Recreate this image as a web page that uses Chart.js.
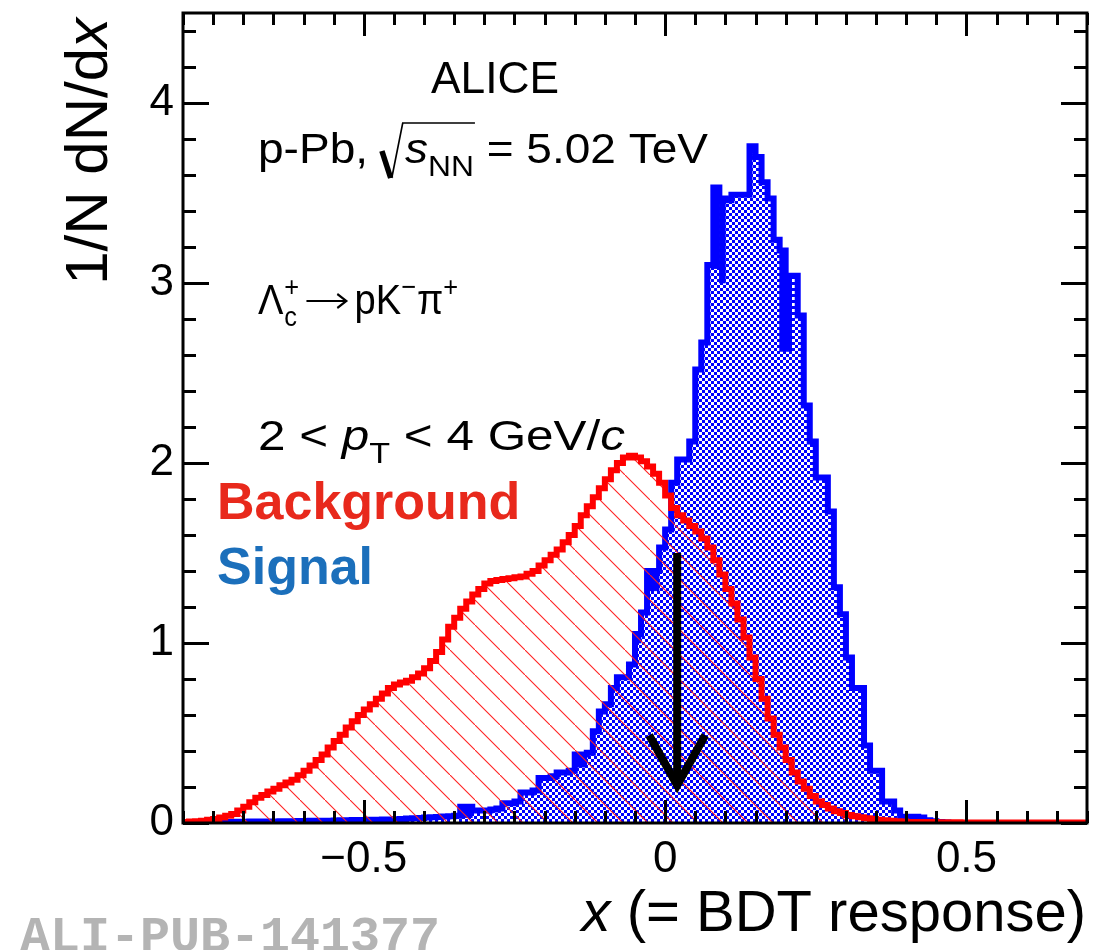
<!DOCTYPE html>
<html>
<head>
<meta charset="utf-8">
<title>BDT response</title>
<script src="https://cdn.jsdelivr.net/npm/chart.js@4.4.1/dist/chart.umd.min.js"></script>
<style>
  html, body { margin: 0; padding: 0; background: #ffffff; }
  #wrap { width: 1116px; height: 950px; }
</style>
</head>
<body>
<div id="wrap"><canvas id="chart" width="1116" height="950"></canvas></div>
<script>
// Axis ranges and tick labels
const X_MIN = -0.8, X_MAX = 0.7, BIN_WIDTH = 0.01;
const Y_MIN = 0, Y_MAX = 4.5;
const xMajorTicks = [-0.5, 0, 0.5];
const xTickLabels = ['\u22120.5', '0', '0.5'];
const yMajorTicks = [0, 1, 2, 3, 4];
const yTickLabels = ['0', '1', '2', '3', '4'];

// Normalised BDT response, background sample (150 bins of 0.01 from -0.80)
const background = [
  0.005, 0.008, 0.010, 0.013, 0.018, 0.022, 0.030, 0.040, 0.050, 0.070,
  0.090, 0.115, 0.140, 0.155, 0.175, 0.190, 0.210, 0.225, 0.240, 0.265,
  0.290, 0.320, 0.350, 0.380, 0.420, 0.455, 0.490, 0.530, 0.565, 0.600,
  0.630, 0.660, 0.690, 0.720, 0.750, 0.770, 0.780, 0.790, 0.810, 0.830,
  0.860, 0.900, 0.950, 1.020, 1.090, 1.140, 1.190, 1.230, 1.270, 1.300,
  1.330, 1.345, 1.350, 1.355, 1.360, 1.365, 1.370, 1.385, 1.400, 1.430,
  1.460, 1.490, 1.520, 1.560, 1.600, 1.650, 1.710, 1.760, 1.810, 1.860,
  1.910, 1.960, 2.000, 2.030, 2.040, 2.030, 2.010, 1.980, 1.940, 1.890,
  1.820, 1.750, 1.710, 1.680, 1.650, 1.620, 1.580, 1.530, 1.460, 1.380,
  1.300, 1.220, 1.130, 1.030, 0.920, 0.800, 0.690, 0.580, 0.490, 0.420,
  0.350, 0.280, 0.230, 0.190, 0.150, 0.120, 0.100, 0.080, 0.065, 0.055,
  0.045, 0.038, 0.032, 0.027, 0.022, 0.018, 0.015, 0.012, 0.010, 0.008,
  0.006, 0.006, 0.005, 0.005, 0.005, 0.004, 0.004, 0.004, 0.004, 0.003,
  0.003, 0.003, 0.003, 0.003, 0.003, 0.003, 0.003, 0.003, 0.003, 0.003,
  0.003, 0.003, 0.003, 0.003, 0.003, 0.003, 0.003, 0.003, 0.003, 0.003
];

// Normalised BDT response, signal sample (same binning)
const signal = [
  0.000, 0.000, 0.000, 0.003, 0.004, 0.005, 0.005, 0.006, 0.006, 0.007,
  0.007, 0.008, 0.008, 0.008, 0.009, 0.009, 0.010, 0.010, 0.010, 0.011,
  0.011, 0.012, 0.012, 0.013, 0.013, 0.014, 0.015, 0.015, 0.016, 0.016,
  0.017, 0.018, 0.018, 0.019, 0.020, 0.021, 0.022, 0.025, 0.026, 0.028,
  0.030, 0.032, 0.034, 0.036, 0.038, 0.040, 0.090, 0.090, 0.070, 0.070,
  0.070, 0.075, 0.080, 0.110, 0.110, 0.120, 0.170, 0.170, 0.180, 0.250,
  0.250, 0.260, 0.280, 0.280, 0.290, 0.380, 0.380, 0.390, 0.510, 0.620,
  0.660, 0.750, 0.810, 0.810, 0.880, 1.050, 1.170, 1.400, 1.400, 1.530,
  1.630, 1.890, 2.020, 2.020, 2.120, 2.520, 2.670, 3.100, 3.530, 3.470,
  3.460, 3.490, 3.490, 3.490, 3.760, 3.700, 3.560, 3.470, 3.240, 3.180,
  3.040, 3.040, 2.820, 2.320, 2.120, 1.920, 1.920, 1.730, 1.310, 1.160,
  0.920, 0.750, 0.750, 0.430, 0.290, 0.290, 0.120, 0.120, 0.070, 0.035,
  0.035, 0.035, 0.030, 0.015, 0.010, 0.005, 0.003, 0.000, 0.000, 0.000,
  0.000, 0.000, 0.000, 0.000, 0.000, 0.000, 0.000, 0.000, 0.000, 0.000,
  0.000, 0.000, 0.000, 0.000, 0.000, 0.000, 0.000, 0.000, 0.000, 0.000
];

// Signal bins drawn with a solid uncertainty band (bin low edge, band low, band high)
const signalBandBins = [-0.34, -0.33, -0.15, -0.14, -0.05, -0.03, -0.02, 0.08, 0.09, 0.19, 0.20];
const signalBandLow  = [0.03, 0.03, 0.31, 0.31, 1.00, 1.29, 1.29, 3.08, 3.00, 2.62, 2.62];
const signalBandHigh = [0.09, 0.09, 0.38, 0.38, 1.05, 1.40, 1.40, 3.53, 3.47, 3.18, 3.04];

// Selected BDT cut and the arrow marking it
const cutValue = 0.02;
const arrowTop = 1.5;
const arrowTip = 0.21;

const SANS = '"Liberation Sans", Arial, Helvetica, sans-serif';
const MONO = '"Liberation Mono", "DejaVu Sans Mono", monospace';
const reg = s => `${s}px ${SANS}`;
const ita = s => `italic ${s}px ${SANS}`;
const bold = s => `bold ${s}px ${SANS}`;

// Histogram outline as step points: one point per bin low edge plus the last upper edge
function histPoints(values) {
  const pts = values.map((v, i) => ({ x: X_MIN + i * BIN_WIDTH, y: v }));
  pts.push({ x: X_MAX, y: values[values.length - 1] });
  return pts;
}

function checkerPattern() {
  const c = document.createElement('canvas');
  c.width = 6; c.height = 6;
  const g = c.getContext('2d');
  g.fillStyle = '#0000ff';
  g.fillRect(0, 0, 3, 3);
  g.fillRect(3, 3, 3, 3);
  return g.createPattern(c, 'repeat');
}

function hatchPattern() {
  const s = 25;
  const c = document.createElement('canvas');
  c.width = s; c.height = s;
  const g = c.getContext('2d');
  g.strokeStyle = '#ff2020';
  g.lineWidth = 1.1;
  g.beginPath();
  g.moveTo(-3, -3);
  g.lineTo(s + 3, s + 3);
  g.stroke();
  return g.createPattern(c, 'repeat');
}

// Lays out a list of text runs; a run may be plain text, a fixed gap,
// or a stacked sub/superscript pair sharing one x position.
function layoutRuns(ctx, runs) {
  let x = 0;
  const items = [];
  for (const r of runs) {
    if (r.space !== undefined) {
      items.push({ r, x });
      x += r.space;
    } else if (r.stack) {
      let w = 0;
      for (const s of r.stack) { ctx.font = s.font; w = Math.max(w, ctx.measureText(s.text).width); }
      items.push({ r, x });
      x += w + (r.gap || 0);
    } else {
      ctx.font = r.font;
      items.push({ r, x });
      x += ctx.measureText(r.text).width + (r.gap || 0);
    }
  }
  return { items, width: x };
}

// Draws runs starting at (x, y), squeezed or stretched to a given total width
function drawLine(ctx, x, y, runs, targetWidth, after) {
  const lay = layoutRuns(ctx, runs);
  const sx = targetWidth ? targetWidth / lay.width : 1;
  ctx.save();
  ctx.translate(x, y);
  ctx.scale(sx, 1);
  ctx.fillStyle = '#000';
  for (const it of lay.items) {
    const r = it.r;
    if (r.space !== undefined) continue;
    if (r.stack) {
      for (const s of r.stack) { ctx.font = s.font; ctx.fillText(s.text, it.x, s.dy || 0); }
    } else {
      ctx.font = r.font;
      ctx.fillStyle = r.color || '#000';
      ctx.fillText(r.text, it.x, r.dy || 0);
    }
  }
  if (after) after(ctx, lay);
  ctx.restore();
  return lay.width * sx;
}

const frameTicks = {
  id: 'frameTicks',
  afterDatasetsDraw(chart) {
    const { ctx, chartArea: a, scales: { x, y } } = chart;
    ctx.save();
    ctx.strokeStyle = '#000';
    ctx.lineWidth = 3;
    ctx.lineCap = 'butt';
    ctx.beginPath();
    // x ticks every 0.05, major every 0.5
    for (let k = -16; k <= 14; k++) {
      const v = k * 0.05;
      if (v < X_MIN - 1e-9 || v > X_MAX + 1e-9) continue;
      const px = Math.round(x.getPixelForValue(v)) + 0.5;
      const major = Math.abs(v / 0.5 - Math.round(v / 0.5)) < 1e-6;
      const len = major ? 23 : 12;
      ctx.moveTo(px, a.bottom); ctx.lineTo(px, a.bottom - len);
      ctx.moveTo(px, a.top); ctx.lineTo(px, a.top + len);
    }
    // y ticks every 0.2, major every 1
    for (let k = 0; k <= 22; k++) {
      const v = k * 0.2;
      if (v > Y_MAX + 1e-9) continue;
      const py = Math.round(y.getPixelForValue(v)) + 0.5;
      const major = Math.abs(v - Math.round(v)) < 1e-6;
      const len = major ? 26 : 13;
      ctx.moveTo(a.left, py); ctx.lineTo(a.left + len, py);
      ctx.moveTo(a.right, py); ctx.lineTo(a.right - len, py);
    }
    ctx.stroke();
    ctx.strokeRect(a.left, a.top, a.right - a.left, a.bottom - a.top);

    // cut arrow
    const ax = x.getPixelForValue(cutValue);
    const ay0 = y.getPixelForValue(arrowTop);
    const ay1 = y.getPixelForValue(arrowTip);
    ctx.lineWidth = 8;
    ctx.beginPath();
    ctx.moveTo(ax, ay0); ctx.lineTo(ax, ay1 - 4);
    ctx.stroke();
    ctx.lineJoin = 'miter';
    ctx.miterLimit = 10;
    ctx.beginPath();
    ctx.moveTo(ax - 28, ay1 - 50); ctx.lineTo(ax, ay1); ctx.lineTo(ax + 28, ay1 - 50);
    ctx.stroke();
    ctx.restore();
  },
  afterDraw(chart) {
    const { ctx } = chart;
    ctx.save();
    ctx.textBaseline = 'alphabetic';
    ctx.textAlign = 'left';

    // ALICE
    drawLine(ctx, 431, 93, [{ text: 'ALICE', font: reg(44) }], 128);

    // p-Pb, sqrt(s_NN) = 5.02 TeV
    drawLine(ctx, 258, 163, [
      { text: 'p-Pb, ', font: reg(42) },
      { space: 22 },
      { text: 's', font: ita(42) },
      { text: 'NN', font: reg(29), dy: 13 },
      { text: ' = 5.02 TeV', font: reg(42) }
    ], 450, (g, lay) => {
      const rx = lay.items[1].x + 1;
      const end = lay.items[4].x + 1;
      g.strokeStyle = '#000';
      g.lineWidth = 5;
      g.beginPath();
      g.moveTo(rx, -12); g.lineTo(rx + 8, 15);
      g.stroke();
      g.lineWidth = 1.5;
      g.beginPath();
      g.moveTo(rx + 9, 15); g.lineTo(rx + 19, -40); g.lineTo(end, -40);
      g.stroke();
    });

    // Lambda_c^+ -> p K^- pi^+
    drawLine(ctx, 258, 314, [
      { text: '\u039B', font: reg(42), gap: 1 },
      { stack: [{ text: 'c', font: reg(28), dy: 12 }, { text: '+', font: reg(28), dy: -18 }], gap: 5 },
      { space: 56 },
      { text: 'pK', font: reg(42) },
      { text: '\u2212', font: reg(28), dy: -18, gap: 1 },
      { text: '\u03C0', font: reg(42) },
      { text: '+', font: reg(28), dy: -18 }
    ], 200, (g, lay) => {
      // reaction arrow
      const a0 = lay.items[2].x + 3;
      const a1 = a0 + 44;
      const ay = -13;
      g.strokeStyle = '#000';
      g.lineWidth = 2.2;
      g.beginPath();
      g.moveTo(a0, ay); g.lineTo(a1, ay);
      g.moveTo(a1 - 10, ay - 7); g.lineTo(a1, ay); g.lineTo(a1 - 10, ay + 7);
      g.stroke();
    });

    // 2 < pT < 4 GeV/c
    drawLine(ctx, 258, 450, [
      { text: '2 < ', font: reg(42) },
      { text: 'p', font: ita(42) },
      { text: 'T', font: reg(29), dy: 13 },
      { text: ' < 4 GeV/', font: reg(42) },
      { text: 'c', font: ita(42) }
    ], 367);

    // sample names
    ctx.font = bold(52);
    ctx.fillStyle = '#e8291c';
    ctx.fillText('Background', 217, 519);
    ctx.fillStyle = '#1b6fbb';
    ctx.fillText('Signal', 217, 584);

    // y-axis title, rotated, flush with the top of the frame
    const yRuns = [
      { text: '1/N dN/d', font: reg(60) },
      { text: 'x', font: ita(60) }
    ];
    const yw = layoutRuns(ctx, yRuns).width;
    ctx.save();
    ctx.translate(107, 18);
    ctx.rotate(-Math.PI / 2);
    drawLine(ctx, -yw, 0, yRuns);
    ctx.restore();

    // x-axis title, flush with the right of the frame
    const xRuns = [
      { text: 'x', font: ita(58) },
      { text: ' (= BDT response)', font: reg(58) }
    ];
    const xw = layoutRuns(ctx, xRuns).width;
    drawLine(ctx, 1086 - xw, 931, xRuns);

    // publication id
    ctx.font = `bold 50px ${MONO}`;
    ctx.fillStyle = '#b4b4b4';
    ctx.fillText('ALI-PUB-141377', 20, 951);
    ctx.restore();
  }
};

const ctx = document.getElementById('chart').getContext('2d');

new Chart(ctx, {
  type: 'line',
  data: {
    datasets: [
      {
        label: 'Background',
        data: histPoints(background),
        stepped: true,
        borderColor: '#ff0000',
        borderWidth: 6,
        backgroundColor: hatchPattern(),
        fill: 'origin',
        pointRadius: 0,
        order: 0
      },
      {
        type: 'bar',
        label: 'Signal uncertainty',
        data: signalBandBins.map((b, i) => ({ x: b + BIN_WIDTH / 2, y: [signalBandLow[i], signalBandHigh[i]] })),
        backgroundColor: '#0000ff',
        borderWidth: 0,
        barPercentage: 1,
        categoryPercentage: 1,
        order: 1
      },
      {
        label: 'Signal',
        data: histPoints(signal),
        stepped: true,
        borderColor: '#0000ff',
        borderWidth: 6,
        backgroundColor: checkerPattern(),
        fill: 'origin',
        pointRadius: 0,
        order: 2
      }
    ]
  },
  options: {
    responsive: false,
    animation: false,
    devicePixelRatio: 1,
    layout: { padding: { top: 13, right: 29, left: 0, bottom: 0 } },
    plugins: { legend: { display: false }, tooltip: { enabled: false } },
    elements: { line: { tension: 0 } },
    scales: {
      x: {
        type: 'linear',
        min: X_MIN, max: X_MAX,
        offset: false,
        grid: { display: false, drawTicks: false },
        border: { display: false },
        afterBuildTicks: s => { s.ticks = xMajorTicks.map(v => ({ value: v })); },
        afterFit: s => { s.height = 127; s.paddingLeft = 0; s.paddingRight = 0; },
        ticks: {
          autoSkip: false, maxRotation: 0, padding: 10,
          color: '#000',
          font: { family: SANS, size: 44 },
          callback: v => xTickLabels[xMajorTicks.indexOf(v)]
        }
      },
      y: {
        type: 'linear',
        min: Y_MIN, max: Y_MAX,
        grid: { display: false, drawTicks: false },
        border: { display: false },
        afterBuildTicks: s => { s.ticks = yMajorTicks.map(v => ({ value: v })); },
        afterFit: s => { s.width = 183; s.paddingTop = 0; s.paddingBottom = 0; },
        ticks: {
          autoSkip: false, padding: 9,
          color: '#000',
          font: { family: SANS, size: 44 },
          callback: v => yTickLabels[yMajorTicks.indexOf(v)]
        }
      }
    }
  },
  plugins: [frameTicks]
});
</script>
</body>
</html>
